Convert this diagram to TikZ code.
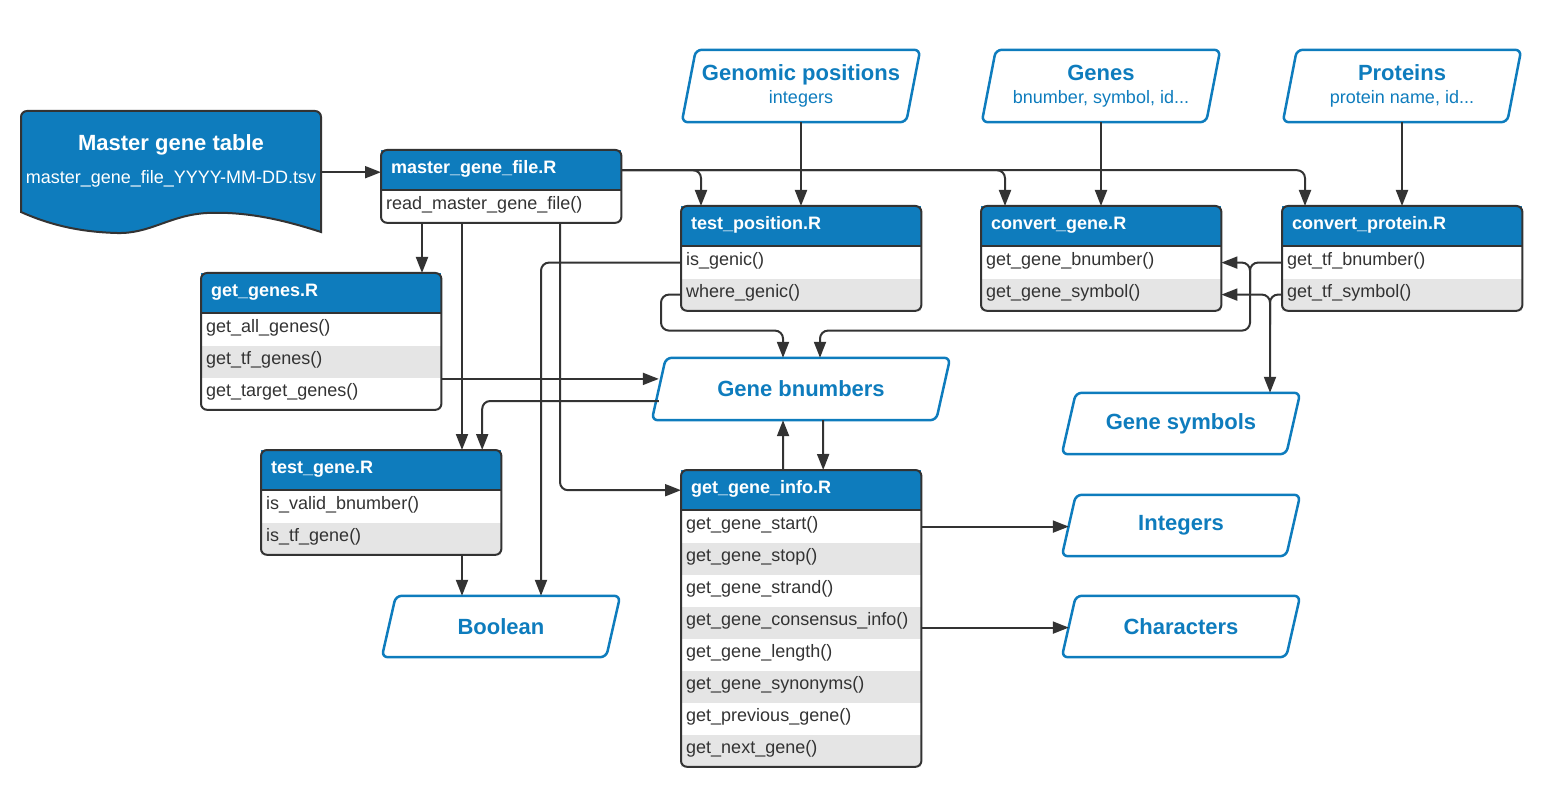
\documentclass[tikz,border=0pt]{standalone}
\usepackage{fontspec}
\setmainfont{Liberation Sans}
\usetikzlibrary{arrows.meta,positioning}

\definecolor{lucidblue}{RGB}{14,124,189}
\definecolor{linegray}{RGB}{51,51,51}
\definecolor{rowgray}{RGB}{229,229,229}

% R file box: name, north west corner, title, function rows
\newcommand{\codebox}[4]{%
  \node[boxhead, anchor=north west] (#1) at (#2) {#3};
  \foreach \fname [count=\i] in {#4} {
    \ifodd\i\def\rowfill{white}\else\def\rowfill{rowgray}\fi
    \node[boxrow, fill=\rowfill, anchor=north west] (#1-\i) at ([yshift={-(\i-1)*32pt}]#1.south west) {\fname};
    \xdef\lastrow{\i}
  }
  \draw[boxline] (#1.south west) -- (#1.south east);
  \draw[boxline, rounded corners=6pt] (#1.north west) rectangle (#1-\lastrow.south east);
}

\begin{document}
\begin{tikzpicture}[
    x=1pt, y=-1pt,
    font=\fontsize{18}{21}\selectfont,
    boxhead/.style={fill=lucidblue, text=white, font=\fontsize{18}{21}\selectfont\bfseries, minimum height=40pt, text width=220pt, inner xsep=10pt, inner ysep=0pt, align=left, text height=12pt, text depth=6pt},
    boxrow/.style={text=linegray, minimum height=32pt, text width=230pt, inner xsep=5pt, inner ysep=0pt, align=left, text height=12pt, text depth=6pt},
    boxline/.style={draw=linegray, line width=2pt},
    data/.style={minimum width=224pt, minimum height=61pt, inner sep=0pt, align=center, text=lucidblue, font=\fontsize{22}{26}\selectfont\bfseries},
    datashape/.style={draw=lucidblue, line width=2.5pt, rounded corners=6pt},
    arr/.style={-{Triangle[length=16pt,width=12pt]}, draw=linegray, line width=2pt},
]
\useasboundingbox (0,0) rectangle (1545,786);

% Master gene table (document)
\draw[fill=lucidblue, draw=linegray, line width=2pt] (21,212) [rounded corners=6pt] -- (21,111) -- (321,111) [sharp corners] -- (321,232)
    .. controls (290,222) and (250,211) .. (207,213) .. controls (170,215) and (150,234) .. (117,233)
    .. controls (80,232) and (50,225) .. (21,212) -- cycle;
\node[text=white, align=center, minimum width=300pt, inner sep=0pt] (master) at (171,161)
    {{\fontsize{22}{26}\selectfont\bfseries Master gene table}\\[12pt]master\_gene\_file\_YYYY-MM-DD.tsv};

% R files
\codebox{mgf}{381,150}{master\_gene\_file.R}{read\_master\_gene\_file()}
\codebox{tpos}{681,206}{test\_position.R}{is\_genic(), where\_genic()}
\codebox{cgene}{981,206}{convert\_gene.R}{get\_gene\_bnumber(), get\_gene\_symbol()}
\codebox{cprot}{1282,206}{convert\_protein.R}{get\_tf\_bnumber(), get\_tf\_symbol()}
\codebox{ggenes}{201,273}{get\_genes.R}{get\_all\_genes(), get\_tf\_genes(), get\_target\_genes()}
\codebox{tgene}{261,450}{test\_gene.R}{is\_valid\_bnumber(), is\_tf\_gene()}
\codebox{ginfo}{681,470}{get\_gene\_info.R}{get\_gene\_start(), get\_gene\_stop(), get\_gene\_strand(),
    get\_gene\_consensus\_info(), get\_gene\_length(), get\_gene\_synonyms(), get\_previous\_gene(), get\_next\_gene()}

% Data types
\node[data, minimum height=72pt] (genpos) at (801,86) {Genomic positions\\[-3pt]{\mdseries\fontsize{18}{21}\selectfont integers}};
\node[data, minimum height=72pt] (genes) at (1101,86) {Genes\\[-3pt]{\mdseries\fontsize{18}{21}\selectfont bnumber, symbol, id...}};
\node[data, minimum height=72pt] (prots) at (1402,86) {Proteins\\[-3pt]{\mdseries\fontsize{18}{21}\selectfont protein name, id...}};
\node[data, minimum width=284pt, minimum height=62pt] (gbn) at (801,389) {Gene bnumbers};
\node[data] (gsym) at (1181,423.5) {Gene symbols};
\node[data] (ints) at (1181,525.5) {Integers};
\node[data] (chars) at (1181,626.5) {Characters};
\node[data] (bool) at (501,626.5) {Boolean};
\foreach \d in {genpos,genes,prots,gbn,gsym,ints,chars,bool}
    \draw[datashape] ([xshift=7pt]\d.north west) -- ([xshift=7pt]\d.north east)
        -- ([xshift=-7pt]\d.south east) -- ([xshift=-7pt]\d.south west) -- cycle;

% Connectors from the master file
\draw[arr] ([yshift=-2pt]master.east |- mgf.west) -- ([yshift=-2pt]mgf.west);
\draw[arr, rounded corners=8pt] (mgf.east) -| ([xshift=20pt]tpos.north west);
\draw[arr, rounded corners=8pt] (mgf.east) -| ([xshift=24pt]cgene.north west);
\draw[arr, rounded corners=8pt] (mgf.east) -| ([xshift=23pt]cprot.north west);
\draw[arr] (genpos.south) -- (genpos.south |- tpos.north);
\draw[arr] (genes.south) -- (genes.south |- cgene.north);
\draw[arr] (prots.south) -- (prots.south |- cprot.north);
\draw[arr] ([xshift=41pt]mgf-1.south west) -- ([xshift=41pt]mgf-1.south west |- ggenes.north);
\draw[arr] ([xshift=81pt]mgf-1.south west) -- ([xshift=81pt]mgf-1.south west |- tgene.north);
\draw[arr, rounded corners=8pt] ([xshift=179pt]mgf-1.south west) |- (ginfo.west);

% test_position.R
\draw[arr, rounded corners=8pt] (tpos-1.west) -| ([xshift=40pt]bool.north);
\draw[arr, rounded corners=8pt] (tpos-2.west) -| ++(-20,36) -| ([xshift=-18pt]gbn.north);

% convert_protein.R
\draw[arr, rounded corners=8pt] (cprot-1.west) -| ++(-32,68) -| ([xshift=19pt]gbn.north);
\draw[arr, rounded corners=8pt] ([xshift=-32pt,yshift=-30pt]cprot-1.west) |- (cgene-1.east);
\draw[arr, rounded corners=8pt] (cprot-2.west) -| ([xshift=89pt]gsym.north);
\draw[arr, rounded corners=8pt] ([xshift=-12pt,yshift=-30pt]cprot-2.west) |- (cgene-2.east);

% Gene bnumbers
\draw[arr] ([yshift=-1.5pt]ggenes-3.north east) -- ([yshift=-1.5pt]ggenes-3.north east -| gbn.west);
\draw[arr, rounded corners=8pt] ([yshift=-12pt]gbn.west) -| ([xshift=101pt]tgene.north);
\draw[arr] ([xshift=-18pt]ginfo.north) -- ([xshift=-18pt]gbn.south);
\draw[arr] ([xshift=22pt]gbn.south) -- ([xshift=22pt]ginfo.north);

% Outputs
\draw[arr] ([xshift=201pt]tgene-2.south west) -- ([xshift=201pt]tgene-2.south west |- bool.north);
\draw[arr] (ginfo-1.east) -- (ginfo-1.east -| ints.west);
\draw[arr] ([yshift=-5pt]ginfo-4.east) -- ([yshift=-5pt]ginfo-4.east -| chars.west);
\end{tikzpicture}
\end{document}
